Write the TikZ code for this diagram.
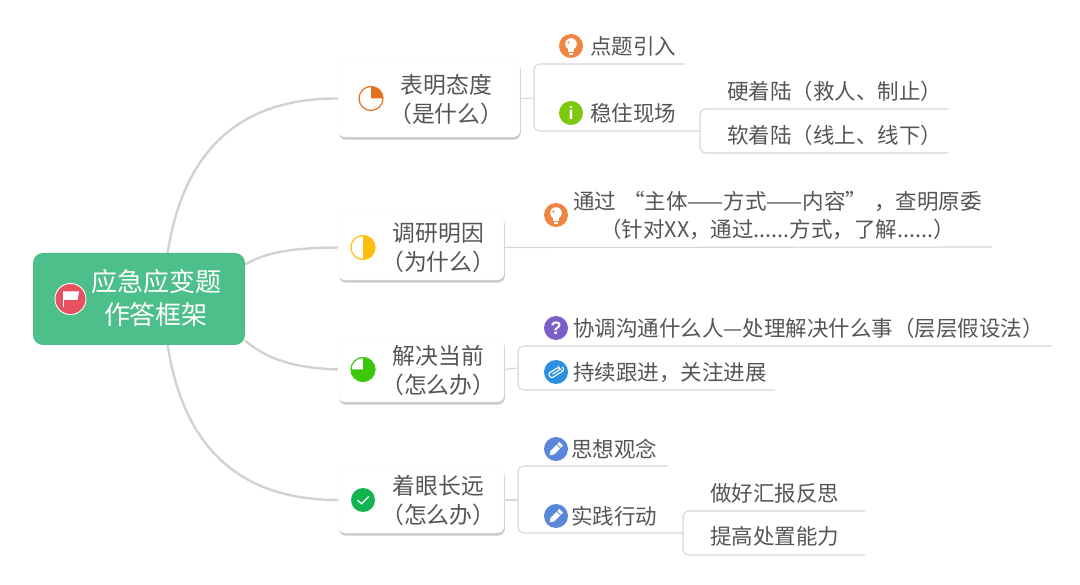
\documentclass[tikz,border=0pt]{standalone}
\usepackage{fontspec}
\setmainfont{Noto Sans CJK SC}
\newfontfamily\iconfont{Liberation Sans}
\usepackage{xcolor}
\usetikzlibrary{arrows.meta, positioning, calc, shadows, backgrounds}
\definecolor{rootgreen}{HTML}{4DBF8A}
\definecolor{flagred}{HTML}{E8505F}
\definecolor{inkgray}{HTML}{555555}
\definecolor{curvegray}{HTML}{D2D2D2}
\definecolor{linegray}{HTML}{D6D6D6}
\definecolor{pieorange}{HTML}{E5701E}
\definecolor{pieyellow}{HTML}{FFBE0F}
\definecolor{piegreen}{HTML}{3CC80A}
\definecolor{bulborange}{HTML}{F08542}
\definecolor{infogreen}{HTML}{7CC80E}
\definecolor{askpurple}{HTML}{7B5FC9}
\definecolor{clipblue}{HTML}{2A8FE0}
\definecolor{penblue}{HTML}{5B87DA}
\definecolor{checkgreen}{HTML}{10B550}
\newcommand{\zl}{\char"FF08\relax}
\newcommand{\zr}{\char"FF09\relax}
\newcommand{\zc}{\char"FF0C\relax}
\tikzset{
  rootbox/.style={rectangle, rounded corners=10pt, fill=rootgreen, minimum width=212pt, minimum height=92pt, outer sep=0pt},
  roottext/.style={align=center, text=white, inner sep=0pt, font=\fontsize{26}{33}\selectfont},
  topic/.style={rectangle, rounded corners=7pt, fill=white, draw=black!4, outer sep=0pt, drop shadow={shadow xshift=0.8pt, shadow yshift=-2.6pt, fill=black!35, opacity=0.6}},
  topictext/.style={align=center, text=inkgray, inner sep=0pt, yshift=-0.5pt, font=\fontsize{22.8}{29}\selectfont},
  leaf/.style={align=center, text=inkgray, inner sep=0pt, yshift=-0.5pt, font=\fontsize{21.5}{28}\selectfont},
  icon/.style={circle, minimum size=24pt, inner sep=0pt, outer sep=0pt, text=white, font=\iconfont\bfseries\fontsize{18}{18}\selectfont},
  pie/.style={circle, minimum size=24pt, inner sep=0pt, outer sep=0pt, fill=white, draw=#1, line width=1.2pt},
  curve/.style={draw=curvegray, line width=2.4pt},
  branch/.style={draw=linegray, line width=1.1pt, rounded corners=6pt}
}
\newcommand{\bulbglyph}[2]{
  \begin{scope}[shift={(#1)}]
    \fill[white] (0pt,2pt) circle[radius=5.8pt];
    \fill[white] (-3pt,-3pt) rectangle (3pt,-6pt);
    \fill[white] (-2pt,-7pt) rectangle (2pt,-8.6pt);
    \fill[#2] (-2.6pt,3.4pt) circle[radius=1.2pt];
  \end{scope}
}
\newcommand{\penglyph}[2]{
  \begin{scope}[shift={(#1)}, rotate=45]
    \fill[white] (-5pt,-2.6pt) rectangle (3.2pt,2.6pt);
    \fill[white] (-5pt,-2.6pt) -- (-9pt,0pt) -- (-5pt,2.6pt) -- cycle;
    \fill[white] (4.4pt,-2.6pt) rectangle (7.4pt,2.6pt);
  \end{scope}
}
\begin{document}
\begin{tikzpicture}[x=1pt, y=-1pt]
    \useasboundingbox (0,0) rectangle (1080,585);

    % central topic
    \node[rootbox] (root) at (139,299) {};
    \node[icon, fill=flagred, draw=white, line width=0.9pt, minimum size=31pt, right=22pt of root.west] (flag) {};
    \node[roottext] (roottitle) at (156,298) {应急应变题\\作答框架};
    \fill[white] ($(flag.center)+(-8pt,8pt)$) rectangle ($(flag.center)+(-6.6pt,-8pt)$);
    \fill[white] ($(flag.center)+(-6.6pt,7.5pt)$) -- ($(flag.center)+(8.5pt,7.5pt)$) -- ($(flag.center)+(7pt,-1pt)$) -- ($(flag.center)+(-6.6pt,-1pt)$) -- cycle;

    % four main topics
    \node[topic, minimum width=166pt, minimum height=65pt, right=93pt of root, yshift=51.5pt] (topicB) {};
    \node[topic, minimum width=182pt, minimum height=77pt, above=78pt of topicB.north west, anchor=south west] (topicA) {};
    \node[topic, minimum width=166pt, minimum height=65pt, below=57pt of topicB] (topicC) {};
    \node[topic, minimum width=166pt, minimum height=66pt, below=65pt of topicC] (topicD) {};

    \node[pie=pieorange, right=21pt of topicA.west] (pieA) {};
    \node[pie=pieyellow, right=13pt of topicB.west] (pieB) {};
    \node[pie=piegreen, right=13pt of topicC.west] (pieC) {};
    \node[icon, fill=checkgreen, right=13pt of topicD.west] (pieD) {};
    \fill[pieorange] (pieA.center) -- (pieA.north) arc[start angle=90, end angle=0, radius=12pt] -- cycle;
    \fill[pieyellow] (pieB.north) arc[start angle=90, end angle=-90, radius=12pt] -- cycle;
    \fill[piegreen] (pieC.center) -- (pieC.west) arc[start angle=180, end angle=450, radius=12pt] -- cycle;
    \draw[white, line width=1.3pt] ($(pieD.center)+(-5.5pt,0pt)$) -- ($(pieD.center)+(-1.5pt,-3.8pt)$) -- ($(pieD.center)+(5.8pt,3.6pt)$);

    \node[topictext, right=6pt of pieA] (textA) {表明态度\\\zl 是什么\zr};
    \node[topictext, right=6pt of pieB] (textB) {调研明因\\\zl 为什么\zr};
    \node[topictext, right=6pt of pieC] (textC) {解决当前\\\zl 怎么办\zr};
    \node[topictext, right=6pt of pieD] (textD) {着眼长远\\\zl 怎么办\zr};

    \begin{scope}[on background layer]
      \draw[curve] ($(root.north)!0.27!(root.north east)$) .. controls (185,140) and (250,98) .. (topicA.west);
      \draw[curve] ($(root.east)!0.75!(root.north east)$) .. controls (270,250) and (300,248) .. (topicB.west);
      \draw[curve] ($(root.east)!0.9!(root.south east)$) .. controls (270,362) and (300,368) .. (topicC.west);
      \draw[curve] ($(root.south)!0.27!(root.south east)$) .. controls (185,458) and (250,500) .. (topicD.west);
    \end{scope}

    % leaves of the first topic
    \coordinate (forkA) at (534,98);
    \coordinate (lineA1) at (685,64);
    \coordinate (lineA2) at (700,131);
    \coordinate (lineA3) at (948,109);
    \coordinate (lineA4) at (948,153);
    \node[icon, fill=bulborange] (iconA1) at (571,46) {};
    \node[leaf, right=7pt of iconA1] (leafA1) {点题引入};
    \node[icon, fill=infogreen] (iconA2) at (571,113) {i};
    \node[leaf, right=7pt of iconA2] (leafA2) {稳住现场};
    \node[leaf, anchor=west] (leafA3) at (727,91) {硬着陆\zl 救人、制止\zr};
    \node[leaf, below=22.5pt of leafA3] (leafA4) {软着陆\zl 线上、线下\zr};
    \bulbglyph{iconA1}{bulborange}
    \draw[branch] (topicA.east) -- (forkA);
    \draw[branch] (lineA1) -| (forkA) |- (lineA2);
    \draw[branch] (lineA3) -| (lineA2) |- (lineA4);

    % leaf of the second topic
    \coordinate (lineB1) at (992,247);
    \node[icon, fill=bulborange] (iconB1) at (556,215) {};
    \node[leaf, right=5pt of iconB1] (leafB1) {通过\hspace{7pt}“主体——方式——内容”\hspace{7pt}\zc 查明原委\\\zl 针对XX\zc 通过......方式\zc 了解......\zr};
    \bulbglyph{iconB1}{bulborange}
    \draw[branch] (topicB.east) -- (lineB1);

    % leaves of the third topic
    \coordinate (forkC) at (518,368);
    \coordinate (lineC1) at (1052,346);
    \coordinate (lineC2) at (775,390);
    \node[icon, fill=askpurple] (iconC1) at (556,328) {?};
    \node[leaf, right=5pt of iconC1] (leafC1) {协调沟通什么人—处理解决什么事\zl 层层假设法\zr};
    \node[icon, fill=clipblue] (iconC2) at (556,372) {};
    \node[leaf, right=5pt of iconC2] (leafC2) {持续跟进\zc 关注进展};
    \begin{scope}[shift={(iconC2)}, rotate=32]
      \draw[white, line width=1.1pt, rounded corners=2pt] (-4pt,0pt) -- (5pt,0pt) -- (5pt,2.8pt) -- (-7.5pt,2.8pt) -- (-7.5pt,-2.8pt) -- (8pt,-2.8pt) -- (8pt,1pt);
    \end{scope}
    \draw[branch] (topicC.east) -- (forkC);
    \draw[branch] (lineC1) -| (forkC) |- (lineC2);

    % leaves of the fourth topic
    \coordinate (forkD) at (518,500);
    \coordinate (lineD1) at (668,466);
    \coordinate (lineD2) at (683,533);
    \coordinate (lineD3) at (865,511);
    \coordinate (lineD4) at (865,555);
    \node[icon, fill=penblue] (iconD1) at (556,449) {};
    \node[leaf, right=3pt of iconD1] (leafD1) {思想观念};
    \node[icon, fill=penblue] (iconD2) at (556,516) {};
    \node[leaf, right=3pt of iconD2] (leafD2) {实践行动};
    \node[leaf, anchor=west] (leafD3) at (710,493) {做好汇报反思};
    \node[leaf, below=22.5pt of leafD3] (leafD4) {提高处置能力};
    \penglyph{iconD1}{penblue}
    \penglyph{iconD2}{penblue}
    \draw[branch] (topicD.east) -- (forkD);
    \draw[branch] (lineD1) -| (forkD) |- (lineD2);
    \draw[branch] (lineD3) -| (lineD2) |- (lineD4);
\end{tikzpicture}
\end{document}
